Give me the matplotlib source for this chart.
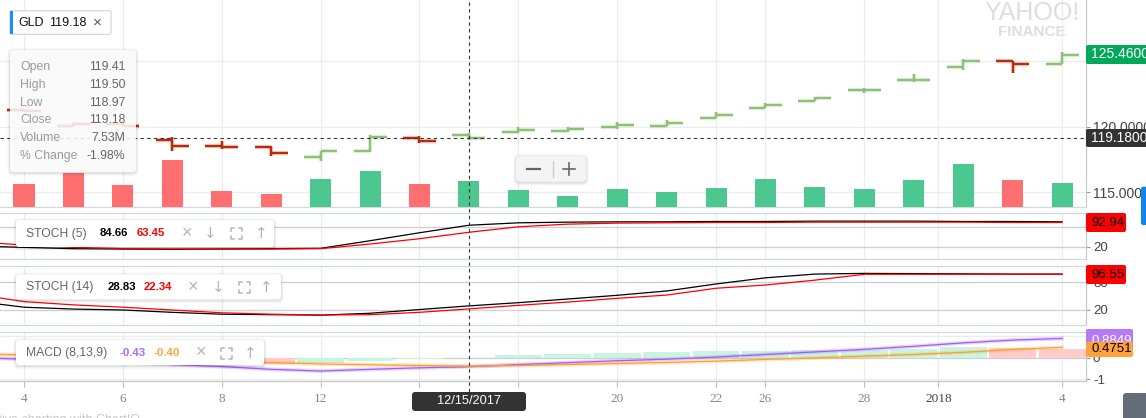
import numpy as np
import matplotlib
matplotlib.use("Agg")
import matplotlib.pyplot as plt
from matplotlib.patches import FancyBboxPatch
from matplotlib.lines import Line2D
from matplotlib.transforms import IdentityTransform, blended_transform_factory

# ---------------- data ----------------
dates = ["2017-12-01", "2017-12-04", "2017-12-05", "2017-12-06", "2017-12-07",
         "2017-12-08", "2017-12-11", "2017-12-12", "2017-12-13", "2017-12-14",
         "2017-12-15", "2017-12-18", "2017-12-19", "2017-12-20", "2017-12-21",
         "2017-12-22", "2017-12-26", "2017-12-27", "2017-12-28", "2017-12-29",
         "2018-01-02", "2018-01-03", "2018-01-04"]
opens  = [121.30, 121.25, 120.05, 120.20, 118.99, 118.50, 118.43, 117.67, 118.13, 119.11,
          119.41, 119.57, 119.67, 119.98, 120.05, 120.66, 121.46, 121.97, 122.78, 123.58,
          124.60, 125.00, 124.83]
highs  = [121.90, 121.35, 120.30, 120.30, 119.24, 118.94, 118.56, 118.18, 119.37, 119.32,
          119.50, 119.98, 119.97, 120.38, 120.50, 121.14, 121.84, 122.30, 122.93, 124.04,
          125.17, 125.00, 125.70]
lows   = [121.00, 121.10, 119.95, 119.95, 118.18, 118.30, 117.80, 117.42, 118.05, 118.73,
          118.97, 119.55, 119.60, 119.87, 120.05, 120.66, 121.46, 121.97, 122.60, 123.40,
          124.37, 124.11, 124.82]
closes = [121.60, 121.21, 120.25, 120.08, 118.50, 118.46, 118.00, 118.13, 119.19, 118.92,
          119.18, 119.77, 119.85, 120.13, 120.28, 120.89, 121.69, 122.17, 122.78, 123.58,
          125.05, 124.77, 125.46]
volume_m = [9.0, 6.75, 9.9, 6.4, 13.6, 4.6, 3.8, 8.1, 10.4, 6.7, 7.53, 4.9, 3.2, 5.2,
            4.3, 5.5, 8.1, 5.8, 5.2, 7.8, 12.5, 7.8, 7.0]
stoch5_k = [22, 18, 14, 13, 12, 13, 14, 15, 38, 62, 84.66, 92, 94, 95, 95, 96, 96, 97,
            97, 97, 96, 96, 95]
stoch5_d = [35, 25, 18, 14, 13, 13, 13, 14, 28, 44, 63.45, 80, 88, 91, 92, 93, 93, 94,
            94, 94, 94, 93, 92.94]
stoch14_k = [39, 26, 22, 20, 15, 11, 10, 9, 13, 21, 28.83, 35.7, 43.6, 51.5, 60.8, 75.8,
             89, 97, 98.5, 98, 97.5, 97, 97]
stoch14_d = [54, 38, 31, 26, 20, 14, 11, 9.3, 10, 15, 22.34, 30, 37, 45, 52, 66.6, 73.6,
             84, 96.6, 96.6, 96.6, 96.5, 96.55]
macd_line = [0.00, -0.08, -0.15, -0.23, -0.33, -0.42, -0.55, -0.63, -0.55, -0.48, -0.43,
             -0.33, -0.24, -0.15, -0.08, 0.02, 0.14, 0.26, 0.38, 0.52, 0.68, 0.81, 0.8849]
macd_signal = [0.17, 0.12, 0.07, 0.00, -0.07, -0.15, -0.24, -0.30, -0.34, -0.37, -0.40,
               -0.37, -0.33, -0.28, -0.23, -0.17, -0.09, -0.02, 0.06, 0.14, 0.24, 0.37, 0.4751]
macd_hist = [-0.03, -0.08, -0.13, -0.18, -0.22, -0.26, -0.28, -0.27, -0.15, -0.08, -0.03,
             0.10, 0.16, 0.20, 0.25, 0.28, 0.31, 0.34, 0.37, 0.40, 0.47, 0.43, 0.40]
tick_dates = ["2017-12-04", "2017-12-06", "2017-12-08", "2017-12-12", "2017-12-14",
              "2017-12-18", "2017-12-20", "2017-12-22", "2017-12-26", "2017-12-28",
              "2018", "2018-01-04"]
tick_labels = ["4", "6", "8", "12", "14", "18", "20", "22", "26", "28", "2018", "4"]
symbol = "GLD"
cross_date = "2017-12-15"
tooltip_labels = ["Open", "High", "Low", "Close", "Volume", "% Change"]
tooltip_values = ["119.41", "119.50", "118.97", "119.18", "7.53M", "-1.98%"]

# ---------------- layout ----------------
W, H, DPI = 1146, 418, 100
plt.rcParams['font.family'] = ['Liberation Sans', 'DejaVu Sans']
plt.rcParams['axes.unicode_minus'] = False
fig = plt.figure(figsize=(W / DPI, H / DPI), dpi=DPI)
fig.patch.set_facecolor('white')
ID = IdentityTransform()

PLOT_R = 1086
DAY_PX = 49.43
FIRST_PX = 24

n = len(dates)
x = np.arange(n)
i0 = dates.index("2017-12-04")
xlim = (i0 - FIRST_PX / DAY_PX, i0 + (PLOT_R - FIRST_PX) / DAY_PX)


def tick_pos(d):
    if d in dates:
        return dates.index(d)
    first_new = [k for k, s in enumerate(dates) if s.startswith(d)][0]
    return first_new - 0.5


xt = [tick_pos(d) for d in tick_dates]


def add_ax(x0, y0, x1, y1):
    return fig.add_axes([x0 / W, 1 - y1 / H, (x1 - x0) / W, (y1 - y0) / H])


def lim_from(v1, y1, v2, y2, top, bot):
    k = (v1 - v2) / (y2 - y1)
    return (v1 + (y1 - bot) * k, v1 + (y1 - top) * k)


def style_panel(ax, top_spine=True, bottom_color='#d3d8e0', labelsize=9.5):
    ax.set_xlim(*xlim)
    ax.set_facecolor('none')
    ax.spines['left'].set_visible(False)
    ax.spines['top'].set_visible(top_spine)
    ax.spines['top'].set_color('#d3d8e0')
    ax.spines['bottom'].set_color(bottom_color)
    ax.spines['right'].set_color('#c8c8c8')
    for sp in ax.spines.values():
        sp.set_linewidth(0.9)
    ax.yaxis.tick_right()
    ax.tick_params(axis='y', direction='out', length=3, width=0.8, color='#999999',
                   pad=2, labelsize=labelsize, labelcolor='#444444')
    ax.set_xticks(xt)
    ax.tick_params(axis='x', length=0, labelbottom=False)
    for p in xt:
        ax.axvline(p, color='#ececec', lw=0.9, zorder=0)


# main price panel
ax = add_ax(0, 0, PLOT_R, 207)
style_panel(ax, top_spine=False, labelsize=10)
ax.set_ylim(*lim_from(125, 61.3, 115, 192.3, 0, 207))
ax.set_yticks([115, 120, 125])
ax.set_yticklabels(['115.0000', '120.0000', ''])
for v in [115, 120, 125]:
    ax.axhline(v, color='#ececec', lw=0.9, zorder=0)

up = ['#8cc176' if k == 0 or closes[k] >= closes[k - 1] else '#b82c0c' for k in range(n)]
vol_col = ['#4dc790' if k == 0 or closes[k] >= closes[k - 1] else '#ff6f6f' for k in range(n)]
tw = 0.334
ax.vlines(x, lows, highs, colors=up, lw=1.6, zorder=3)
ax.hlines(opens, x - tw, x, colors=up, lw=1.6, zorder=3)
ax.hlines(closes, x, x + tw, colors=up, lw=1.6, zorder=3)
ax.vlines(x, lows, highs, colors=up, lw=3.2, alpha=0.22, zorder=2)
ax.hlines(opens, x - tw, x, colors=up, lw=3.2, alpha=0.22, zorder=2)
ax.hlines(closes, x, x + tw, colors=up, lw=3.2, alpha=0.22, zorder=2)
ax.axhline(closes[dates.index(cross_date)], color='#333333', lw=0.8, ls=(0, (3, 3)), zorder=4)

# volume underlay: separate transparent axes on the same rectangle
axv = add_ax(0, 0, PLOT_R, 207)
axv.set_xlim(*xlim)
axv.set_ylim(0, 207 / 3.453)
axv.bar(x, volume_m, width=0.425, color=vol_col, zorder=2)
axv.set_xticks([])
axv.set_yticks([])
for sp in axv.spines.values():
    sp.set_visible(False)
axv.set_facecolor('none')

# STOCH (5)
a5 = add_ax(0, 213, PLOT_R, 259)
style_panel(a5)
a5.set_ylim(*lim_from(92.94, 222.5, 20, 246.7, 213, 259))
a5.set_yticks([20, 80])
for v in [20, 80]:
    a5.axhline(v, color='#cfcfcf', lw=0.9, zorder=0)
a5.plot(x, stoch5_k, color='black', lw=0.9, zorder=3)
a5.plot(x, stoch5_d, color='#ff0000', lw=0.9, zorder=4)

# STOCH (14)
a14 = add_ax(0, 266, PLOT_R, 325)
style_panel(a14)
a14.set_ylim(*lim_from(96.55, 274.3, 20, 310, 266, 325))
a14.set_yticks([20, 80])
for v in [20, 80]:
    a14.axhline(v, color='#cfcfcf', lw=0.9, zorder=0)
a14.plot(x, stoch14_k, color='black', lw=0.9, zorder=3)
a14.plot(x, stoch14_d, color='#ff0000', lw=0.9, zorder=4)

# MACD
am = add_ax(0, 331.5, PLOT_R, 381)
style_panel(am, bottom_color='#c4c4c4')
am.set_ylim(*lim_from(1, 336, -1, 379, 331.5, 381))
am.set_yticks([-1, 0, 1])
am.axhline(1, color='#ececec', lw=0.9, zorder=0)
am.axhline(-1, color='#ececec', lw=0.9, zorder=0)
am.axhline(0, color='#cfcfcf', lw=0.9, zorder=0)
hcol = ['#ffcccc' if k > 0 and macd_hist[k] < macd_hist[k - 1] else '#c8f5e0' for k in range(n)]
am.bar(x, macd_hist, width=0.95, color=hcol, zorder=1)
am.plot(x, macd_line, color='#a35cf5', lw=2.8, alpha=0.25, zorder=2)
am.plot(x, macd_signal, color='#ff9f2e', lw=2.8, alpha=0.25, zorder=2)
am.plot(x, macd_line, color='#a35cf5', lw=0.9, zorder=3)
am.plot(x, macd_signal, color='#ff9f2e', lw=0.9, zorder=3)
am.set_xticks(xt)
am.set_xticklabels(tick_labels)
am.tick_params(axis='x', length=4, width=0.8, color='#bbbbbb', pad=5, labelsize=9.5,
               labelcolor='#888888', labelbottom=True)
for lbl in am.get_xticklabels():
    lbl.set_fontfamily('Liberation Serif')
    if lbl.get_text() == '2018':
        lbl.set_color('#444444')

# ---------------- overlays (pixel coordinates) ----------------


def px_box(x0, y0, x1, y1, fc, ec='none', lw=0.0, r=0.0, alpha=1.0, z=10, shadow=False):
    if shadow:
        for k, a in [(3, 0.025), (2, 0.035), (1, 0.05)]:
            sh = FancyBboxPatch((x0 - k, H - y1 - k - 1), (x1 - x0) + 2 * k, (y1 - y0) + 2 * k,
                                boxstyle=f"round,pad=0,rounding_size={r + k}",
                                fc='black', ec='none', alpha=a, transform=ID, zorder=z - 0.5)
            fig.add_artist(sh)
    style = f"round,pad=0,rounding_size={r}" if r > 0 else "square,pad=0"
    p = FancyBboxPatch((x0, H - y1), x1 - x0, y1 - y0, boxstyle=style, fc=fc, ec=ec, lw=lw,
                       alpha=alpha, transform=ID, zorder=z)
    fig.add_artist(p)


def px_text(xp, yp, s, **kw):
    kw.setdefault('zorder', 12)
    kw.setdefault('va', 'center')
    return fig.text(xp, H - yp, s, transform=ID, **kw)


def px_line(xs, ys, **kw):
    kw.setdefault('zorder', 12)
    fig.add_artist(Line2D(xs, [H - v for v in ys], transform=ID, **kw))


def frame_icon(cx, cy, s=5.5, a=3.0, color='#b5b5b5'):
    for sx in (-1, 1):
        for sy in (-1, 1):
            x0c, y0c = cx + sx * s, cy + sy * s
            px_line([x0c - sx * a, x0c, x0c], [y0c, y0c, y0c - sy * a], color=color, lw=1.1)


# crosshair vertical line
ci = dates.index(cross_date)
bt = blended_transform_factory(ax.transData, fig.transFigure)
fig.add_artist(Line2D([ci, ci], [1 - 392 / H, 1.0], transform=bt, color='#333333',
                      lw=0.8, ls=(0, (3, 3)), zorder=5))

# symbol box
px_box(10, 10.7, 111, 34.3, 'white', ec='#cfd3d8', lw=0.8, r=1.5)
px_box(10, 10.7, 12.8, 34.3, '#1a8cff', z=10.5)
px_text(18, 22.5, symbol, fontsize=9, color='#111111')
px_text(49, 22.5, f"{closes[ci]:.2f}", fontsize=9, color='#111111')
px_text(97.5, 22.5, "\u00d7", fontsize=11, color='#555555', ha='center')

# tooltip
px_box(10, 50, 136, 172, 'white', r=3, alpha=0.86, shadow=True)
for k, (lab, val) in enumerate(zip(tooltip_labels, tooltip_values)):
    yy = 66.7 + k * 17.9
    px_text(20, yy, lab, fontsize=8.8, color='#9a9a9a')
    px_text(125.5, yy, val, fontsize=8.8, color='#666666', ha='right')

# zoom control
px_box(516, 156, 586, 181.7, '#f4f4f4', r=4, shadow=True)
px_line([527, 540], [169, 169], color='#666666', lw=1.6)
px_line([552.7, 552.7], [161, 177], color='#cccccc', lw=0.9)
px_line([562.5, 574.5], [169, 169], color='#666666', lw=1.2)
px_line([568.5, 568.5], [163, 175], color='#666666', lw=1.2)

# watermark
px_text(1032, 13.5, "YAHOO!", fontsize=18, color='#dedede', ha='center')
px_text(1032, 31.5, "FINANCE", fontsize=11, color='#dedede', ha='center', fontweight='bold')

# right axis value boxes
px_box(1086, 45, 1152, 64, '#00a95a', r=2)
px_text(1091, 54.5, f"{closes[-1]:.4f}", fontsize=10, color='white')
px_box(1086, 129, 1152, 147, '#333333', r=2)
px_text(1091, 138, f"{closes[ci]:.4f}", fontsize=10, color='white')
px_box(1086, 213, 1126, 232, '#ff0000', r=2)
px_text(1091, 222.5, f"{stoch5_d[-1]:.2f}", fontsize=9.5, color='black')
px_box(1086, 265, 1126, 284, '#ff0000', r=2)
px_text(1091, 274.5, f"{stoch14_d[-1]:.2f}", fontsize=9.5, color='black')
px_box(1086, 329, 1133, 350, '#b57af7', r=2)
px_text(1091, 340.5, f"{macd_line[-1]:.4f}", fontsize=9.5, color='white')
px_box(1086, 341.5, 1133, 357, '#ffa23e', r=2, z=12.3)
px_text(1091, 349.3, f"{macd_signal[-1]:.4f}", fontsize=9.5, color='black', zorder=12.5)
px_box(1141, 186.7, 1150, 225, '#0c86f0', r=2)
px_box(1123, 393, 1152, 424, '#646e79', r=3)

# indicator legend boxes
px_box(16, 220, 274, 247, 'white', r=3, shadow=True)
px_text(26, 233.5, "STOCH (5)", fontsize=8.7, color='#666666')
px_text(100, 233.5, f"{stoch5_k[ci]:.2f}", fontsize=8.2, color='black', fontweight='bold')
px_text(136.7, 233.5, f"{stoch5_d[ci]:.2f}", fontsize=8.2, color='#ff0000', fontweight='bold')
px_text(186.7, 233.5, "\u00d7", fontsize=13, color='#b5b5b5', ha='center')
px_text(210.7, 233.5, "\u2193", fontsize=11, color='#b5b5b5', ha='center', family='DejaVu Sans')
frame_icon(236.7, 233.5)
px_text(261, 233.5, "\u2191", fontsize=11, color='#b5b5b5', ha='center', family='DejaVu Sans')

px_box(16, 274.3, 281, 299.3, 'white', r=3, shadow=True)
px_text(26, 287.3, "STOCH (14)", fontsize=8.7, color='#666666')
px_text(107.3, 287.3, f"{stoch14_k[ci]:.2f}", fontsize=8.2, color='black', fontweight='bold')
px_text(144, 287.3, f"{stoch14_d[ci]:.2f}", fontsize=8.2, color='#ff0000', fontweight='bold')
px_text(193.3, 287.3, "\u00d7", fontsize=13, color='#b5b5b5', ha='center')
px_text(218.3, 287.3, "\u2193", fontsize=11, color='#b5b5b5', ha='center', family='DejaVu Sans')
frame_icon(244, 287.3)
px_text(266.7, 287.3, "\u2191", fontsize=11, color='#b5b5b5', ha='center', family='DejaVu Sans')

px_box(16, 340, 264, 365, 'white', r=3, shadow=True)
px_text(26, 353, "MACD (8,13,9)", fontsize=8.7, color='#666666')
px_text(119, 353, f"{macd_line[ci]:.2f}", fontsize=8.2, color='#a66cf5', fontweight='bold')
px_text(154, 353, f"{macd_signal[ci]:.2f}", fontsize=8.2, color='#ffa23e', fontweight='bold')
px_text(201, 353, "\u00d7", fontsize=13, color='#b5b5b5', ha='center')
frame_icon(226.7, 353)
px_text(250.7, 353, "\u2191", fontsize=11, color='#b5b5b5', ha='center', family='DejaVu Sans')

# date label under crosshair
px_box(412, 392, 526, 411, '#333333', r=3)
px_text(469, 401.5, "12/15/2017", fontsize=9.2, color='white', ha='center')

# attribution
px_text(-40, 420, "Interactive charting with ChartIQ", fontsize=9, color='#c8c8c8')

fig.savefig("out.png", dpi=DPI)
